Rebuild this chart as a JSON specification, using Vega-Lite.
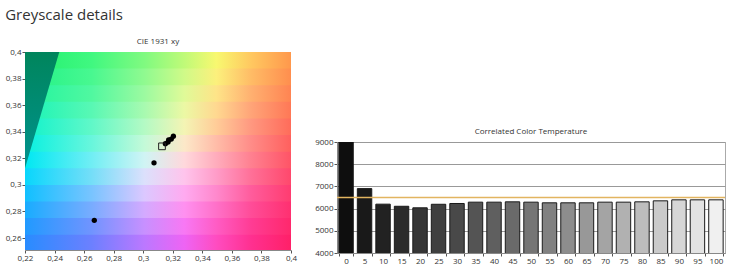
{
  "$schema": "https://vega.github.io/schema/vega-lite/v6.json",
  "background": "white",
  "padding": {"left": 5, "top": 8, "right": 4, "bottom": 2},
  "title": {"text": "Greyscale details", "anchor": "start", "fontSize": 15, "fontWeight": "normal", "color": "#333", "font": "Open Sans", "offset": 15},
  "spacing": 17,
  "hconcat": [
    {
      "width": 266,
      "height": 198,
      "title": {"text": "CIE 1931 xy"},
      "resolve": {"axis": {"x": "independent", "y": "independent"}},
      "layer": [
        {"data": {"values": [{}]}, "mark": {"type": "rect", "clip": true, "fill": {"gradient": "linear", "stops": [{"offset": 0, "color": "#20f070"}, {"offset": 0.25, "color": "#40f880"}, {"offset": 0.45, "color": "#80fa80"}, {"offset": 0.6, "color": "#c0fa78"}, {"offset": 0.72, "color": "#f8f870"}, {"offset": 0.85, "color": "#ffc860"}, {"offset": 1, "color": "#ff984c"}]}},
         "encoding": {"x": {"datum": 0.22, "type": "quantitative", "scale": {"domain": [0.22, 0.4], "nice": false, "zero": false}, "axis": {"title": null, "labelOverlap": false, "labelFlush": false, "values": [0.22, 0.24, 0.26, 0.28, 0.3, 0.32, 0.34, 0.36, 0.38, 0.4], "labelExpr": "replace(format(datum.value, '.2~f'), '.', ',')"}}, "x2": {"datum": 0.4},
                      "y": {"datum": 0.4, "type": "quantitative", "scale": {"domain": [0.251, 0.4], "nice": false, "zero": false}, "axis": {"title": null, "labelOverlap": false, "labelFlush": false, "values": [0.26, 0.28, 0.3, 0.32, 0.34, 0.36, 0.38, 0.4], "labelExpr": "replace(format(datum.value, '.2~f'), '.', ',')"}}, "y2": {"datum": 0.3855}}},
        {"data": {"values": [{}]}, "mark": {"type": "rect", "clip": true, "fill": {"gradient": "linear", "stops": [{"offset": 0, "color": "#20f288"}, {"offset": 0.25, "color": "#48f890"}, {"offset": 0.45, "color": "#90fa90"}, {"offset": 0.6, "color": "#d0fa88"}, {"offset": 0.72, "color": "#fcf07c"}, {"offset": 0.85, "color": "#ffbc66"}, {"offset": 1, "color": "#ff8e4e"}]}},
         "encoding": {"x": {"datum": 0.22, "type": "quantitative", "axis": null}, "x2": {"datum": 0.4}, "y": {"datum": 0.3875, "type": "quantitative", "axis": null}, "y2": {"datum": 0.373}}},
        {"data": {"values": [{}]}, "mark": {"type": "rect", "clip": true, "fill": {"gradient": "linear", "stops": [{"offset": 0, "color": "#20f4a0"}, {"offset": 0.25, "color": "#50f8a0"}, {"offset": 0.45, "color": "#9cfaa0"}, {"offset": 0.6, "color": "#e0fa98"}, {"offset": 0.72, "color": "#fee488"}, {"offset": 0.85, "color": "#ffb070"}, {"offset": 1, "color": "#ff8452"}]}},
         "encoding": {"x": {"datum": 0.22, "type": "quantitative", "axis": null}, "x2": {"datum": 0.4}, "y": {"datum": 0.375, "type": "quantitative", "axis": null}, "y2": {"datum": 0.3605}}},
        {"data": {"values": [{}]}, "mark": {"type": "rect", "clip": true, "fill": {"gradient": "linear", "stops": [{"offset": 0, "color": "#18f4b8"}, {"offset": 0.25, "color": "#58f8b4"}, {"offset": 0.45, "color": "#a8fab0"}, {"offset": 0.6, "color": "#ecf8a4"}, {"offset": 0.72, "color": "#ffd890"}, {"offset": 0.85, "color": "#ffa478"}, {"offset": 1, "color": "#ff7856"}]}},
         "encoding": {"x": {"datum": 0.22, "type": "quantitative", "axis": null}, "x2": {"datum": 0.4}, "y": {"datum": 0.3625, "type": "quantitative", "axis": null}, "y2": {"datum": 0.348}}},
        {"data": {"values": [{}]}, "mark": {"type": "rect", "clip": true, "fill": {"gradient": "linear", "stops": [{"offset": 0, "color": "#10f2cc"}, {"offset": 0.25, "color": "#60f8c8"}, {"offset": 0.45, "color": "#b4fac4"}, {"offset": 0.6, "color": "#f4f4b4"}, {"offset": 0.72, "color": "#ffcc98"}, {"offset": 0.85, "color": "#ff9880"}, {"offset": 1, "color": "#ff6c5a"}]}},
         "encoding": {"x": {"datum": 0.22, "type": "quantitative", "axis": null}, "x2": {"datum": 0.4}, "y": {"datum": 0.35, "type": "quantitative", "axis": null}, "y2": {"datum": 0.3355}}},
        {"data": {"values": [{}]}, "mark": {"type": "rect", "clip": true, "fill": {"gradient": "linear", "stops": [{"offset": 0, "color": "#08f0e0"}, {"offset": 0.25, "color": "#68f6dc"}, {"offset": 0.45, "color": "#c4fad8"}, {"offset": 0.6, "color": "#fce8c8"}, {"offset": 0.72, "color": "#ffbca8"}, {"offset": 0.85, "color": "#ff8c88"}, {"offset": 1, "color": "#ff605e"}]}},
         "encoding": {"x": {"datum": 0.22, "type": "quantitative", "axis": null}, "x2": {"datum": 0.4}, "y": {"datum": 0.3375, "type": "quantitative", "axis": null}, "y2": {"datum": 0.323}}},
        {"data": {"values": [{}]}, "mark": {"type": "rect", "clip": true, "fill": {"gradient": "linear", "stops": [{"offset": 0, "color": "#00e8f2"}, {"offset": 0.25, "color": "#70eef4"}, {"offset": 0.45, "color": "#d0f4f4"}, {"offset": 0.6, "color": "#ffd8dc"}, {"offset": 0.72, "color": "#ffacbc"}, {"offset": 0.85, "color": "#ff8090"}, {"offset": 1, "color": "#ff5466"}]}},
         "encoding": {"x": {"datum": 0.22, "type": "quantitative", "axis": null}, "x2": {"datum": 0.4}, "y": {"datum": 0.325, "type": "quantitative", "axis": null}, "y2": {"datum": 0.3105}}},
        {"data": {"values": [{}]}, "mark": {"type": "rect", "clip": true, "fill": {"gradient": "linear", "stops": [{"offset": 0, "color": "#08d6fc"}, {"offset": 0.25, "color": "#74def8"}, {"offset": 0.45, "color": "#dce0fc"}, {"offset": 0.6, "color": "#ffc4ec"}, {"offset": 0.72, "color": "#ff9cc8"}, {"offset": 0.85, "color": "#ff7098"}, {"offset": 1, "color": "#ff486c"}]}},
         "encoding": {"x": {"datum": 0.22, "type": "quantitative", "axis": null}, "x2": {"datum": 0.4}, "y": {"datum": 0.3125, "type": "quantitative", "axis": null}, "y2": {"datum": 0.298}}},
        {"data": {"values": [{}]}, "mark": {"type": "rect", "clip": true, "fill": {"gradient": "linear", "stops": [{"offset": 0, "color": "#10c0ff"}, {"offset": 0.25, "color": "#78c4ff"}, {"offset": 0.45, "color": "#dcc8ff"}, {"offset": 0.6, "color": "#ffaaf0"}, {"offset": 0.72, "color": "#ff88cc"}, {"offset": 0.85, "color": "#ff5c9c"}, {"offset": 1, "color": "#ff3c70"}]}},
         "encoding": {"x": {"datum": 0.22, "type": "quantitative", "axis": null}, "x2": {"datum": 0.4}, "y": {"datum": 0.3, "type": "quantitative", "axis": null}, "y2": {"datum": 0.2855}}},
        {"data": {"values": [{}]}, "mark": {"type": "rect", "clip": true, "fill": {"gradient": "linear", "stops": [{"offset": 0, "color": "#18acff"}, {"offset": 0.25, "color": "#78acff"}, {"offset": 0.45, "color": "#d4aaff"}, {"offset": 0.6, "color": "#ff90f0"}, {"offset": 0.72, "color": "#ff70c8"}, {"offset": 0.85, "color": "#ff4c98"}, {"offset": 1, "color": "#ff3070"}]}},
         "encoding": {"x": {"datum": 0.22, "type": "quantitative", "axis": null}, "x2": {"datum": 0.4}, "y": {"datum": 0.2875, "type": "quantitative", "axis": null}, "y2": {"datum": 0.273}}},
        {"data": {"values": [{}]}, "mark": {"type": "rect", "clip": true, "fill": {"gradient": "linear", "stops": [{"offset": 0, "color": "#209aff"}, {"offset": 0.25, "color": "#7094ff"}, {"offset": 0.45, "color": "#c890ff"}, {"offset": 0.6, "color": "#f878f4"}, {"offset": 0.72, "color": "#ff5cc4"}, {"offset": 0.85, "color": "#ff3c94"}, {"offset": 1, "color": "#ff286c"}]}},
         "encoding": {"x": {"datum": 0.22, "type": "quantitative", "axis": null}, "x2": {"datum": 0.4}, "y": {"datum": 0.275, "type": "quantitative", "axis": null}, "y2": {"datum": 0.2605}}},
        {"data": {"values": [{}]}, "mark": {"type": "rect", "clip": true, "fill": {"gradient": "linear", "stops": [{"offset": 0, "color": "#288cff"}, {"offset": 0.25, "color": "#6c80ff"}, {"offset": 0.45, "color": "#bc78ff"}, {"offset": 0.6, "color": "#ee64f4"}, {"offset": 0.72, "color": "#ff4cc0"}, {"offset": 0.85, "color": "#ff3090"}, {"offset": 1, "color": "#ff2068"}]}},
         "encoding": {"x": {"datum": 0.22, "type": "quantitative", "axis": null}, "x2": {"datum": 0.4}, "y": {"datum": 0.2625, "type": "quantitative", "axis": null}, "y2": {"datum": 0.245}}},
        {"data": {"values": [{"x": 0.22, "y": 0.3125}, {"x": 0.2432, "y": 0.4}]},
         "mark": {"type": "area", "clip": true, "fill": {"gradient": "linear", "x1": 0, "y1": 0, "x2": 0, "y2": 1, "stops": [{"offset": 0, "color": "#00855c"}, {"offset": 1, "color": "#00938f"}]}},
         "encoding": {"x": {"field": "x", "type": "quantitative", "axis": null}, "y": {"field": "y", "type": "quantitative", "axis": null}, "y2": {"datum": 0.4}}},
        {"data": {"values": [
          {"x": 0.2669, "y": 0.2733},
          {"x": 0.3073, "y": 0.3166},
          {"x": 0.3150, "y": 0.3310},
          {"x": 0.3168, "y": 0.3322},
          {"x": 0.3172, "y": 0.3338},
          {"x": 0.3190, "y": 0.3345},
          {"x": 0.3204, "y": 0.3366}
        ]},
         "mark": {"type": "circle", "size": 28, "color": "#000", "opacity": 1},
         "encoding": {"x": {"field": "x", "type": "quantitative", "axis": null}, "y": {"field": "y", "type": "quantitative", "axis": null}}},
        {"data": {"values": [{"x": 0.3127, "y": 0.329}]},
         "mark": {"type": "square", "size": 45, "filled": false, "color": "#222", "strokeWidth": 1, "opacity": 1},
         "encoding": {"x": {"field": "x", "type": "quantitative", "axis": null}, "y": {"field": "y", "type": "quantitative", "axis": null}}}
      ]
    },
    {
      "spacing": 0,
      "vconcat": [
        {"width": 388, "height": 74.5, "data": {"values": []}, "mark": "point", "view": {"stroke": null}},
        {
          "width": 388,
          "height": 111,
          "title": {"text": "Correlated Color Temperature"},
          "view": {"stroke": "#aaa"},
          "resolve": {"axis": {"y": "independent"}},
          "data": {"values": [
            {"level": 0, "cct": 9500}, {"level": 5, "cct": 6900}, {"level": 10, "cct": 6200},
            {"level": 15, "cct": 6105}, {"level": 20, "cct": 6035}, {"level": 25, "cct": 6195},
            {"level": 30, "cct": 6230}, {"level": 35, "cct": 6290}, {"level": 40, "cct": 6290},
            {"level": 45, "cct": 6305}, {"level": 50, "cct": 6290}, {"level": 55, "cct": 6260},
            {"level": 60, "cct": 6260}, {"level": 65, "cct": 6260}, {"level": 70, "cct": 6290},
            {"level": 75, "cct": 6290}, {"level": 80, "cct": 6305}, {"level": 85, "cct": 6350},
            {"level": 90, "cct": 6395}, {"level": 95, "cct": 6395}, {"level": 100, "cct": 6395}
          ]},
          "layer": [
            {"mark": {"type": "bar", "clip": true, "stroke": "#1a1a1a", "strokeWidth": 1},
             "encoding": {
               "x": {"field": "level", "type": "ordinal", "sort": null, "scale": {"paddingInner": 0.22, "paddingOuter": 0.1}, "axis": {"title": null, "labelAngle": 0, "labelOverlap": false, "tickBand": "extent", "domainColor": "#888"}},
               "y": {"field": "cct", "type": "quantitative", "scale": {"domain": [4000, 9000], "nice": false}, "axis": {"title": null, "labelOverlap": false, "labelFlush": false, "values": [4000, 5000, 6000, 7000, 8000, 9000], "format": "d", "grid": true, "gridColor": "#999", "gridWidth": 1}},
               "color": {"field": "level", "type": "quantitative", "scale": {"domain": [0, 100], "range": ["#0e0e0e", "#f0f0f0"]}, "legend": null}
             }},
            {"data": {"values": [{}]}, "mark": {"type": "rule", "color": "#e2b560", "strokeWidth": 1.5},
             "encoding": {"y": {"datum": 6500, "type": "quantitative", "axis": null}}}
          ]
        }
      ]
    }
  ],
  "config": {
    "font": "Open Sans",
    "view": {"stroke": null},
    "axis": {"labelFontSize": 8, "labelColor": "#333", "tickColor": "#555", "domainColor": "#888", "tickSize": 3, "labelPadding": 1, "grid": false, "labelOverlap": false},
    "title": {"fontSize": 8, "fontWeight": "normal", "color": "#333", "offset": 2}
  }
}
